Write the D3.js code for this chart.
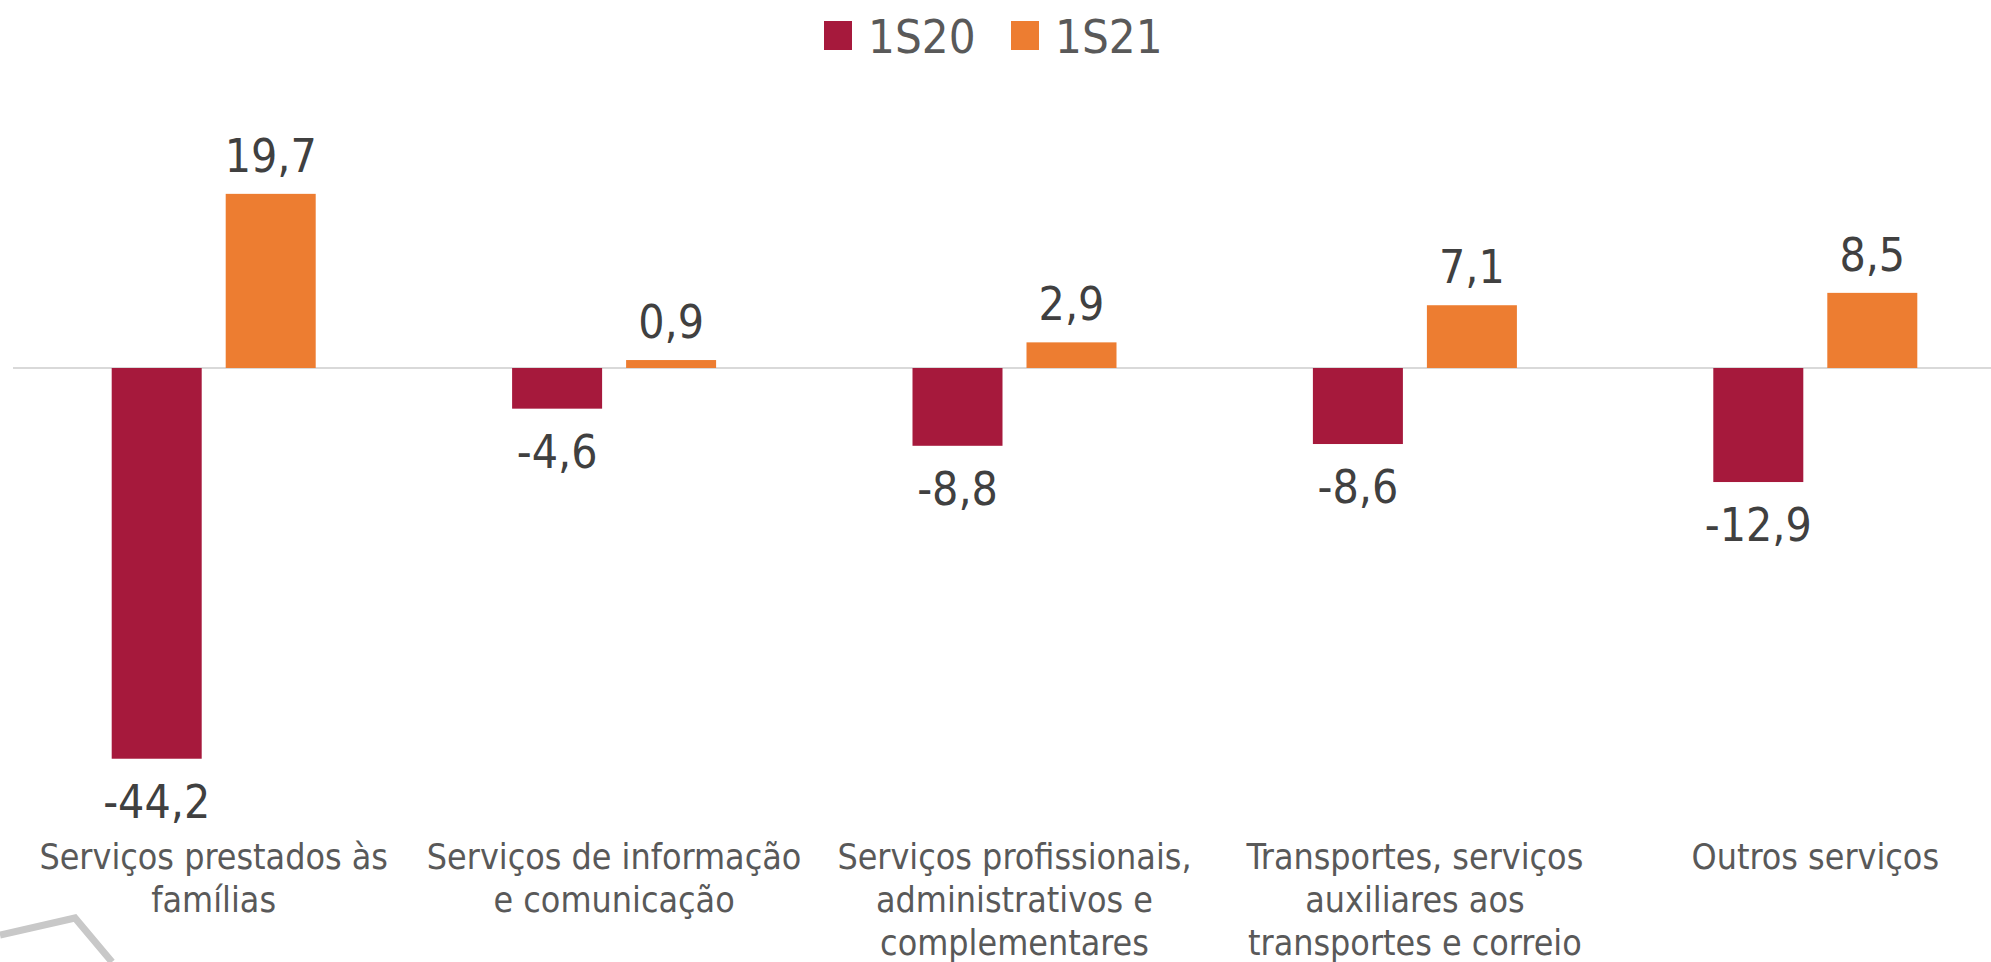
<!DOCTYPE html>
<html>
<head>
<meta charset="utf-8">
<script src="https://cdn.jsdelivr.net/npm/d3@7"></script>
<style>
  html, body { margin: 0; padding: 0; background: #ffffff; overflow: hidden; }
  svg { display: block; }
</style>
</head>
<body>
<svg id="chart" width="1991" height="962"></svg>
<script>
// ---- data ----
const categories = [
  ["Serviços prestados às", "famílias"],
  ["Serviços de informação", "e comunicação"],
  ["Serviços profissionais,", "administrativos e", "complementares"],
  ["Transportes, serviços", "auxiliares aos", "transportes e correio"],
  ["Outros serviços"]
];
const seriesNames = ["1S20", "1S21"];
const values1S20 = [-44.2, -4.6, -8.8, -8.6, -12.9];
const values1S21 = [19.7, 0.9, 2.9, 7.1, 8.5];
const seriesColors = ["#A6193C", "#ED7D31"];

// ---- layout ----
const W = 1991, H = 962;
const svg = d3.select("#chart");
const FONT = "'DejaVu Sans Condensed', 'DejaVu Sans', sans-serif";
const catKeys = categories.map((c, i) => "c" + i);

const x0 = d3.scaleBand().domain(catKeys).range([13.5, 2015.5]).paddingInner(0).paddingOuter(0);
const x1 = d3.scaleBand().domain(seriesNames)
  .range([x0.bandwidth() / 2 - 102, x0.bandwidth() / 2 + 102])
  .paddingInner(24 / 114).paddingOuter(0);
const y = d3.scaleLinear().domain([-50, 25]).range([368 + 50 * 8.84, 368 - 25 * 8.84]);

const seriesData = [values1S20, values1S21];

// decorative polyline bottom-left
svg.append("path")
  .attr("d", d3.line()([[0, 935], [75, 918], [112, 962]]))
  .attr("fill", "none")
  .attr("stroke", "#C8C8C8")
  .attr("stroke-width", 7);

// zero axis line
svg.append("line")
  .attr("x1", 13).attr("x2", W)
  .attr("y1", y(0)).attr("y2", y(0))
  .attr("stroke", "#D9D9D9").attr("stroke-width", 2);

// bars
const groups = svg.selectAll("g.grp").data(catKeys).join("g")
  .attr("class", "grp")
  .attr("transform", d => `translate(${x0(d)},0)`);

groups.each(function(key, i) {
  const g = d3.select(this);
  seriesNames.forEach((s, si) => {
    const v = seriesData[si][i];
    g.append("rect")
      .attr("x", x1(s))
      .attr("width", x1.bandwidth())
      .attr("y", Math.min(y(v), y(0)))
      .attr("height", Math.abs(y(v) - y(0)))
      .attr("fill", seriesColors[si]);
    g.append("text")
      .attr("x", x1(s) + x1.bandwidth() / 2)
      .attr("y", v >= 0 ? y(v) - 22 : y(v) + 59)
      .attr("text-anchor", "middle")
      .attr("font-family", FONT)
      .attr("font-size", 46)
      .attr("fill", "#404040")
      .text(d3.format(".1f")(v).replace(".", ",").replace("−", "-"));
  });
  // category label
  const t = g.append("text")
    .attr("text-anchor", "middle")
    .attr("font-family", FONT)
    .attr("font-size", 35.5)
    .attr("fill", "#595959");
  categories[i].forEach((line, li) => {
    t.append("tspan")
      .attr("x", x0.bandwidth() / 2)
      .attr("y", 869 + li * 43)
      .text(line);
  });
});

// legend
const legend = svg.append("g");
const legendX = [824, 1011];
seriesNames.forEach((s, si) => {
  legend.append("rect")
    .attr("x", legendX[si]).attr("y", 21)
    .attr("width", 28).attr("height", 29)
    .attr("fill", seriesColors[si]);
  legend.append("text")
    .attr("x", legendX[si] + 44).attr("y", 53)
    .attr("font-family", FONT)
    .attr("font-size", 47)
    .attr("fill", "#595959")
    .text(s);
});
</script>
</body>
</html>
